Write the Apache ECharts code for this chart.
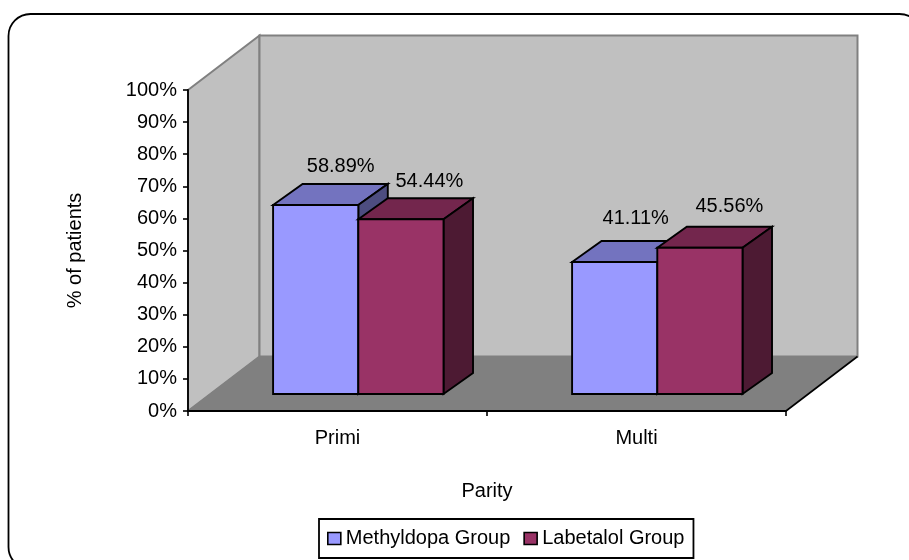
<!DOCTYPE html>
<html>
<head>
<meta charset="utf-8">
<title>Parity by treatment group</title>
<script src="https://cdn.jsdelivr.net/npm/echarts@6/dist/echarts.min.js"></script>
<style>html,body{margin:0;padding:0;background:#fff}#chart{width:909px;height:560px}</style>
</head>
<body>
<div id="chart"></div>
<script>
const categories = ['Primi', 'Multi'];
const methyldopa = [58.89, 41.11];
const labetalol = [54.44, 45.56];
const seriesNames = ['Methyldopa Group', 'Labetalol Group'];

// Pseudo-3D projection, in pixels
const WALL_DX = 71.5, WALL_DY = -54.5;   // room depth
const BAR_INSET_DX = 20.8, BAR_INSET_DY = -17; // bar front face behind the axis plane
const BAR_DX = 29.5, BAR_DY = -21;       // bar depth
const BAR_WIDTH_RATIO = 0.285;           // share of one category band
const FONT = '"Liberation Sans", Arial, sans-serif';
const FONT_SIZE = 20;

// Value label placement relative to each bar's top-front edge, by series then category
const LABEL_OFFSET = [
  [[25, -38], [21, -44]],
  [[28.5, -38], [29.5, -41]]
];

const chart = echarts.init(document.getElementById('chart'), null, { renderer: 'canvas' });

function poly(points, fill, stroke, lineWidth) {
  return { type: 'polygon', shape: { points }, style: { fill, stroke, lineWidth } };
}

function renderRoom(params, api) {
  const g = params.coordSys;
  const x0 = g.x, x1 = g.x + g.width, yt = g.y, yb = g.y + g.height;
  const bx0 = x0 + WALL_DX, bx1 = x1 + WALL_DX, byt = yt + WALL_DY, byb = yb + WALL_DY;
  return {
    type: 'group',
    children: [
      poly([[x0, yt], [bx0, byt], [bx0, byb], [x0, yb]], '#c0c0c0', '#808080', 2),
      poly([[bx0, byt], [bx1, byt], [bx1, byb], [bx0, byb]], '#c0c0c0', '#808080', 2),
      poly([[x0, yb], [x1, yb], [bx1, byb], [bx0, byb]], '#808080', '#808080', 1),
      { type: 'line', shape: { x1: x1, y1: yb, x2: bx1, y2: byb }, style: { stroke: '#000', lineWidth: 1.6 } }
    ]
  };
}

function barRenderer(seriesIndex, front, top, side) {
  return function (params, api) {
    const cat = api.value(0), val = api.value(1);
    const w = api.size([1, 0])[0] * BAR_WIDTH_RATIO;
    const head = api.coord([cat, val]);
    const foot = api.coord([cat, 0]);
    const xl = head[0] + BAR_INSET_DX + (seriesIndex - 1) * w;
    const xr = xl + w;
    const yt = head[1] + BAR_INSET_DY;
    const yb = foot[1] + BAR_INSET_DY;
    const edge = '#000';
    const off = LABEL_OFFSET[seriesIndex][cat];
    return {
      type: 'group',
      children: [
        poly([[xl, yt], [xr, yt], [xr + BAR_DX, yt + BAR_DY], [xl + BAR_DX, yt + BAR_DY]], top, edge, 1.9),
        poly([[xr, yt], [xr + BAR_DX, yt + BAR_DY], [xr + BAR_DX, yb + BAR_DY], [xr, yb]], side, edge, 1.9),
        poly([[xl, yt], [xr, yt], [xr, yb], [xl, yb]], front, edge, 1.9),
        {
          type: 'text',
          z2: 10,
          style: {
            text: val.toFixed(2) + '%',
            x: (xl + xr) / 2 + off[0],
            y: yt + off[1],
            align: 'center',
            verticalAlign: 'middle',
            fill: '#000',
            font: FONT_SIZE + 'px ' + FONT
          }
        }
      ]
    };
  };
}

const axisLine = { show: true, lineStyle: { color: '#000', width: 1.8 } };
const axisTick = { show: true, length: 5, lineStyle: { color: '#000', width: 1.6 } };
const axisText = { color: '#000', fontFamily: FONT, fontSize: FONT_SIZE };

chart.setOption({
  animation: false,
  backgroundColor: '#fff',
  graphic: [{
    type: 'rect',
    z: -1,
    shape: { x: 8.5, y: 14, width: 913, height: 555, r: 22 },
    style: { fill: '#fff', stroke: '#000', lineWidth: 1.8 }
  }],
  grid: { left: 188, top: 90, width: 598, height: 321, containLabel: false },
  xAxis: {
    type: 'category',
    data: categories,
    z: 2,
    axisLine, axisTick,
    axisLabel: { ...axisText, margin: 17 },
    splitLine: { show: false },
    name: 'Parity',
    nameLocation: 'middle',
    nameGap: 70,
    nameTextStyle: axisText
  },
  yAxis: {
    type: 'value',
    min: 0, max: 100, interval: 10,
    z: 2,
    axisLine, axisTick,
    axisLabel: { ...axisText, margin: 11, padding: [3, 0, 0, 0], formatter: '{value}%' },
    splitLine: { show: false },
    name: '% of patients',
    nameLocation: 'middle',
    nameRotate: 90,
    nameGap: 103,
    nameTextStyle: axisText
  },
  legend: {
    left: 319, top: 519,
    orient: 'horizontal',
    data: seriesNames,
    icon: 'rect',
    itemWidth: 13, itemHeight: 12,
    itemGap: 13,
    padding: [9.5, 9, 9.5, 8],
    borderColor: '#000', borderWidth: 1.8,
    backgroundColor: '#fff',
    itemStyle: { borderColor: '#000', borderWidth: 1.6 },
    textStyle: { ...axisText, padding: [0, 0, 0, 0] },
    selectedMode: false
  },
  series: [
    {
      type: 'custom', name: 'room', z: 1, silent: true,
      coordinateSystem: 'cartesian2d',
      data: [[0, 0]],
      renderItem: renderRoom,
      encode: { x: 0, y: 1 }
    },
    {
      type: 'custom', name: seriesNames[0], z: 3,
      coordinateSystem: 'cartesian2d',
      itemStyle: { color: '#9999ff' },
      data: methyldopa.map((v, i) => [i, v]),
      renderItem: barRenderer(0, '#9999ff', '#7373bf', '#4d4d80'),
      encode: { x: 0, y: 1 }
    },
    {
      type: 'custom', name: seriesNames[1], z: 3,
      coordinateSystem: 'cartesian2d',
      itemStyle: { color: '#993366' },
      data: labetalol.map((v, i) => [i, v]),
      renderItem: barRenderer(1, '#993366', '#73264d', '#4d1a33'),
      encode: { x: 0, y: 1 }
    }
  ]
});
</script>
</body>
</html>
